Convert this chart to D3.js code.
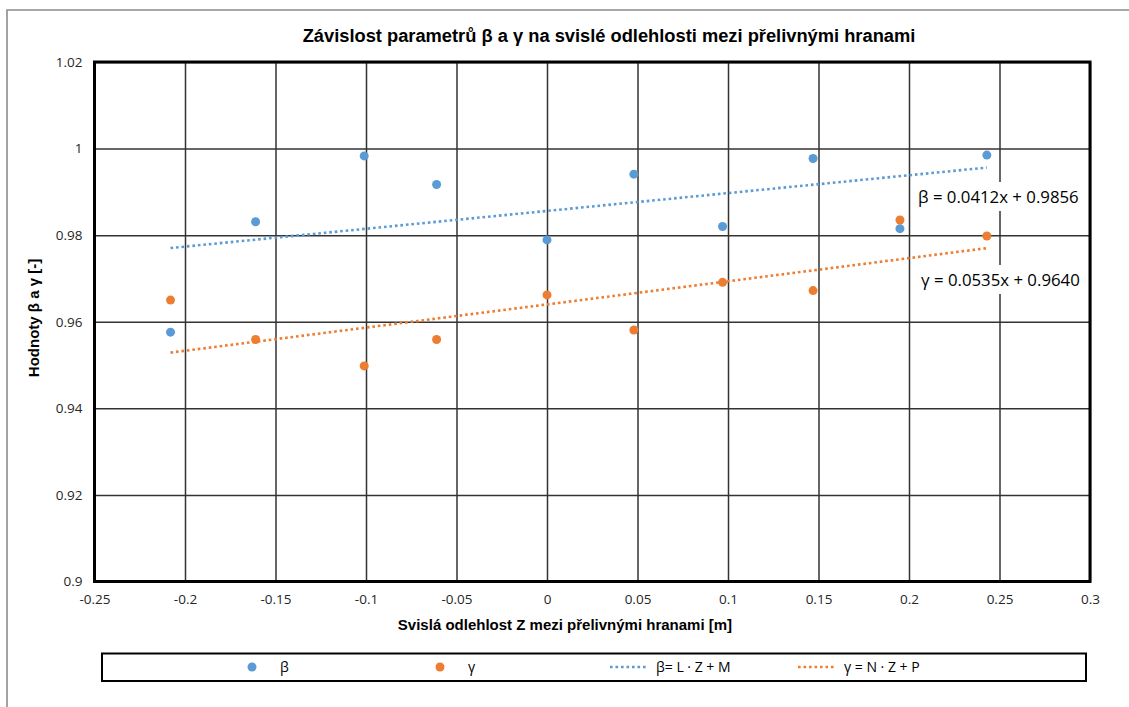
<!DOCTYPE html>
<html>
<head>
<meta charset="utf-8">
<script src="https://cdn.jsdelivr.net/npm/d3@7/dist/d3.min.js"></script>
<style>
  body { margin: 0; background: #fff; }
  svg { display: block; }
  .tick-lbl { font-family: "Open Sans", sans-serif; font-size: 13.5px; fill: #262626; }
  .ax-title { font-family: "Liberation Sans", Arial, sans-serif; font-size: 15px; font-weight: bold; fill: #000; }
</style>
</head>
<body>
<svg id="chart" width="1129" height="707"></svg>
<script>
// <-- data -->
const zValues     = [-0.208, -0.161, -0.101, -0.061, 0, 0.048, 0.097, 0.147, 0.195, 0.243];
const betaValues  = [0.9576, 0.9831, 0.9983, 0.9917, 0.9789, 0.9941, 0.9820, 0.9977, 0.9815, 0.9985];
const gammaValues = [0.9650, 0.9559, 0.9498, 0.9559, 0.9662, 0.9581, 0.9691, 0.9672, 0.9835, 0.9798];

// trendline coefficients [slope, intercept] as printed on the chart
const betaFit  = [0.0412, 0.9856];
const gammaFit = [0.0535, 0.9640];
const fitLabels = ["β = 0.0412x + 0.9856", "γ = 0.0535x + 0.9640"];

const xTicks      = [-0.25, -0.2, -0.15, -0.1, -0.05, 0, 0.05, 0.1, 0.15, 0.2, 0.25, 0.3];
const xTickLabels = ["-0.25", "-0.2", "-0.15", "-0.1", "-0.05", "0", "0.05", "0.1", "0.15", "0.2", "0.25", "0.3"];
const yTicks      = [0.9, 0.92, 0.94, 0.96, 0.98, 1, 1.02];
const yTickLabels = ["0.9", "0.92", "0.94", "0.96", "0.98", "1", "1.02"];

const legendNames = ["β", "γ", "β= L · Z + M", "γ = N · Z + P"];

const title  = "Závislost parametrů β a γ na svislé odlehlosti mezi přelivnými hranami";
const xTitle = "Svislá odlehlost Z mezi přelivnými hranami [m]";
const yTitle = "Hodnoty β a γ [-]";

// <-- layout -->
const blue = "#5b9bd5", orange = "#ed7d31";
const plot = { left: 94.5, top: 62, right: 1090, bottom: 581.5 };

const svg = d3.select("#chart");

// outer chart frame
svg.append("path")
   .attr("d", "M7,712 L7,10 L1135,10")
   .attr("fill", "none")
   .attr("stroke", "#8c8c8c")
   .attr("stroke-width", 1.6);

const x = d3.scaleLinear().domain([-0.25, 0.3]).range([plot.left, plot.right]);
const y = d3.scaleLinear().domain([0.9, 1.02]).range([plot.bottom, plot.top]);

// gridlines via axes
const gx = svg.append("g")
   .attr("transform", "translate(0," + plot.bottom + ")")
   .call(d3.axisBottom(x)
      .tickValues(xTicks)
      .tickSize(-(plot.bottom - plot.top))
      .tickPadding(13)
      .tickFormat(function(d, i){ return xTickLabels[i]; }));
gx.select(".domain").remove();
gx.selectAll(".tick line").attr("stroke", "#333").attr("stroke-width", 1.5);
gx.selectAll(".tick text").attr("class", "tick-lbl").attr("fill", null);

const gy = svg.append("g")
   .attr("transform", "translate(" + plot.left + ",0)")
   .call(d3.axisLeft(y)
      .tickValues(yTicks)
      .tickSize(-(plot.right - plot.left))
      .tickPadding(12)
      .tickFormat(function(d, i){ return yTickLabels[i]; }));
gy.select(".domain").remove();
gy.selectAll(".tick line").attr("stroke", "#333").attr("stroke-width", 1.5);
gy.selectAll(".tick text").attr("class", "tick-lbl").attr("fill", null);

// plot area border
svg.append("rect")
   .attr("x", plot.left)
   .attr("y", plot.top)
   .attr("width", plot.right - plot.left)
   .attr("height", plot.bottom - plot.top)
   .attr("fill", "none")
   .attr("stroke", "#000")
   .attr("stroke-width", 3);

// trendlines
const zMin = d3.min(zValues), zMax = d3.max(zValues);
const line = d3.line().x(function(d){ return x(d[0]); }).y(function(d){ return y(d[1]); });
[[betaFit, blue], [gammaFit, orange]].forEach(function(f){
  const k = f[0];
  const pts = [[zMin, k[0] * zMin + k[1]], [zMax, k[0] * zMax + k[1]]];
  svg.append("path")
     .attr("d", line(pts))
     .attr("fill", "none")
     .attr("stroke", f[1])
     .attr("stroke-width", 2.6)
     .attr("stroke-dasharray", "2.6,2.9");
});

// trendline equations with white background
const labelPos = [[918, 203], [921, 286]];
fitLabels.forEach(function(t, i){
  const g = svg.append("g");
  const txt = g.append("text")
     .attr("x", labelPos[i][0])
     .attr("y", labelPos[i][1])
     .attr("font-family", "Open Sans, sans-serif")
     .attr("font-size", 16.8)
     .attr("fill", "#000")
     .text(t);
  const bb = txt.node().getBBox();
  g.insert("rect", "text")
     .attr("x", bb.x - 4)
     .attr("y", bb.y - 3)
     .attr("width", bb.width + 8)
     .attr("height", bb.height + 6)
     .attr("fill", "#fff");
});

// points
[[betaValues, blue], [gammaValues, orange]].forEach(function(s){
  svg.append("g")
     .selectAll("circle")
     .data(s[0])
     .enter()
     .append("circle")
     .attr("cx", function(d, i){ return x(zValues[i]); })
     .attr("cy", function(d){ return y(d); })
     .attr("r", 4.5)
     .attr("fill", s[1]);
});

// titles
svg.append("text")
   .attr("x", 609)
   .attr("y", 42)
   .attr("text-anchor", "middle")
   .attr("font-family", "Liberation Sans, Arial, sans-serif")
   .attr("font-size", 18.3)
   .attr("font-weight", "bold")
   .text(title);

svg.append("text")
   .attr("class", "ax-title")
   .attr("x", 565)
   .attr("y", 630)
   .attr("text-anchor", "middle")
   .text(xTitle);

svg.append("text")
   .attr("class", "ax-title")
   .attr("transform", "translate(39,318) rotate(-90)")
   .attr("text-anchor", "middle")
   .text(yTitle);

// legend: equal-width entries like Excel
svg.append("rect")
   .attr("x", 102)
   .attr("y", 653.5)
   .attr("width", 984)
   .attr("height", 27.5)
   .attr("fill", "#fff")
   .attr("stroke", "#000")
   .attr("stroke-width", 2);

const legY = 667, legStart = 234, legStep = 188, symW = 36;
legendNames.forEach(function(name, i){
  const sx = legStart + i * legStep;
  const color = i % 2 === 0 ? blue : orange;
  if (i < 2) {
    svg.append("circle").attr("cx", sx + symW / 2).attr("cy", legY).attr("r", 4.5).attr("fill", color);
  } else {
    svg.append("line")
       .attr("x1", sx).attr("x2", sx + symW)
       .attr("y1", legY).attr("y2", legY)
       .attr("stroke", color)
       .attr("stroke-width", 2.6)
       .attr("stroke-dasharray", "2.6,2.9");
  }
  svg.append("text")
     .attr("x", sx + symW + (i < 2 ? 10 : 10))
     .attr("y", legY + 5)
     .attr("font-family", "Open Sans, sans-serif")
     .attr("font-size", 14)
     .attr("fill", "#000")
     .text(name);
});
</script>
</body>
</html>
